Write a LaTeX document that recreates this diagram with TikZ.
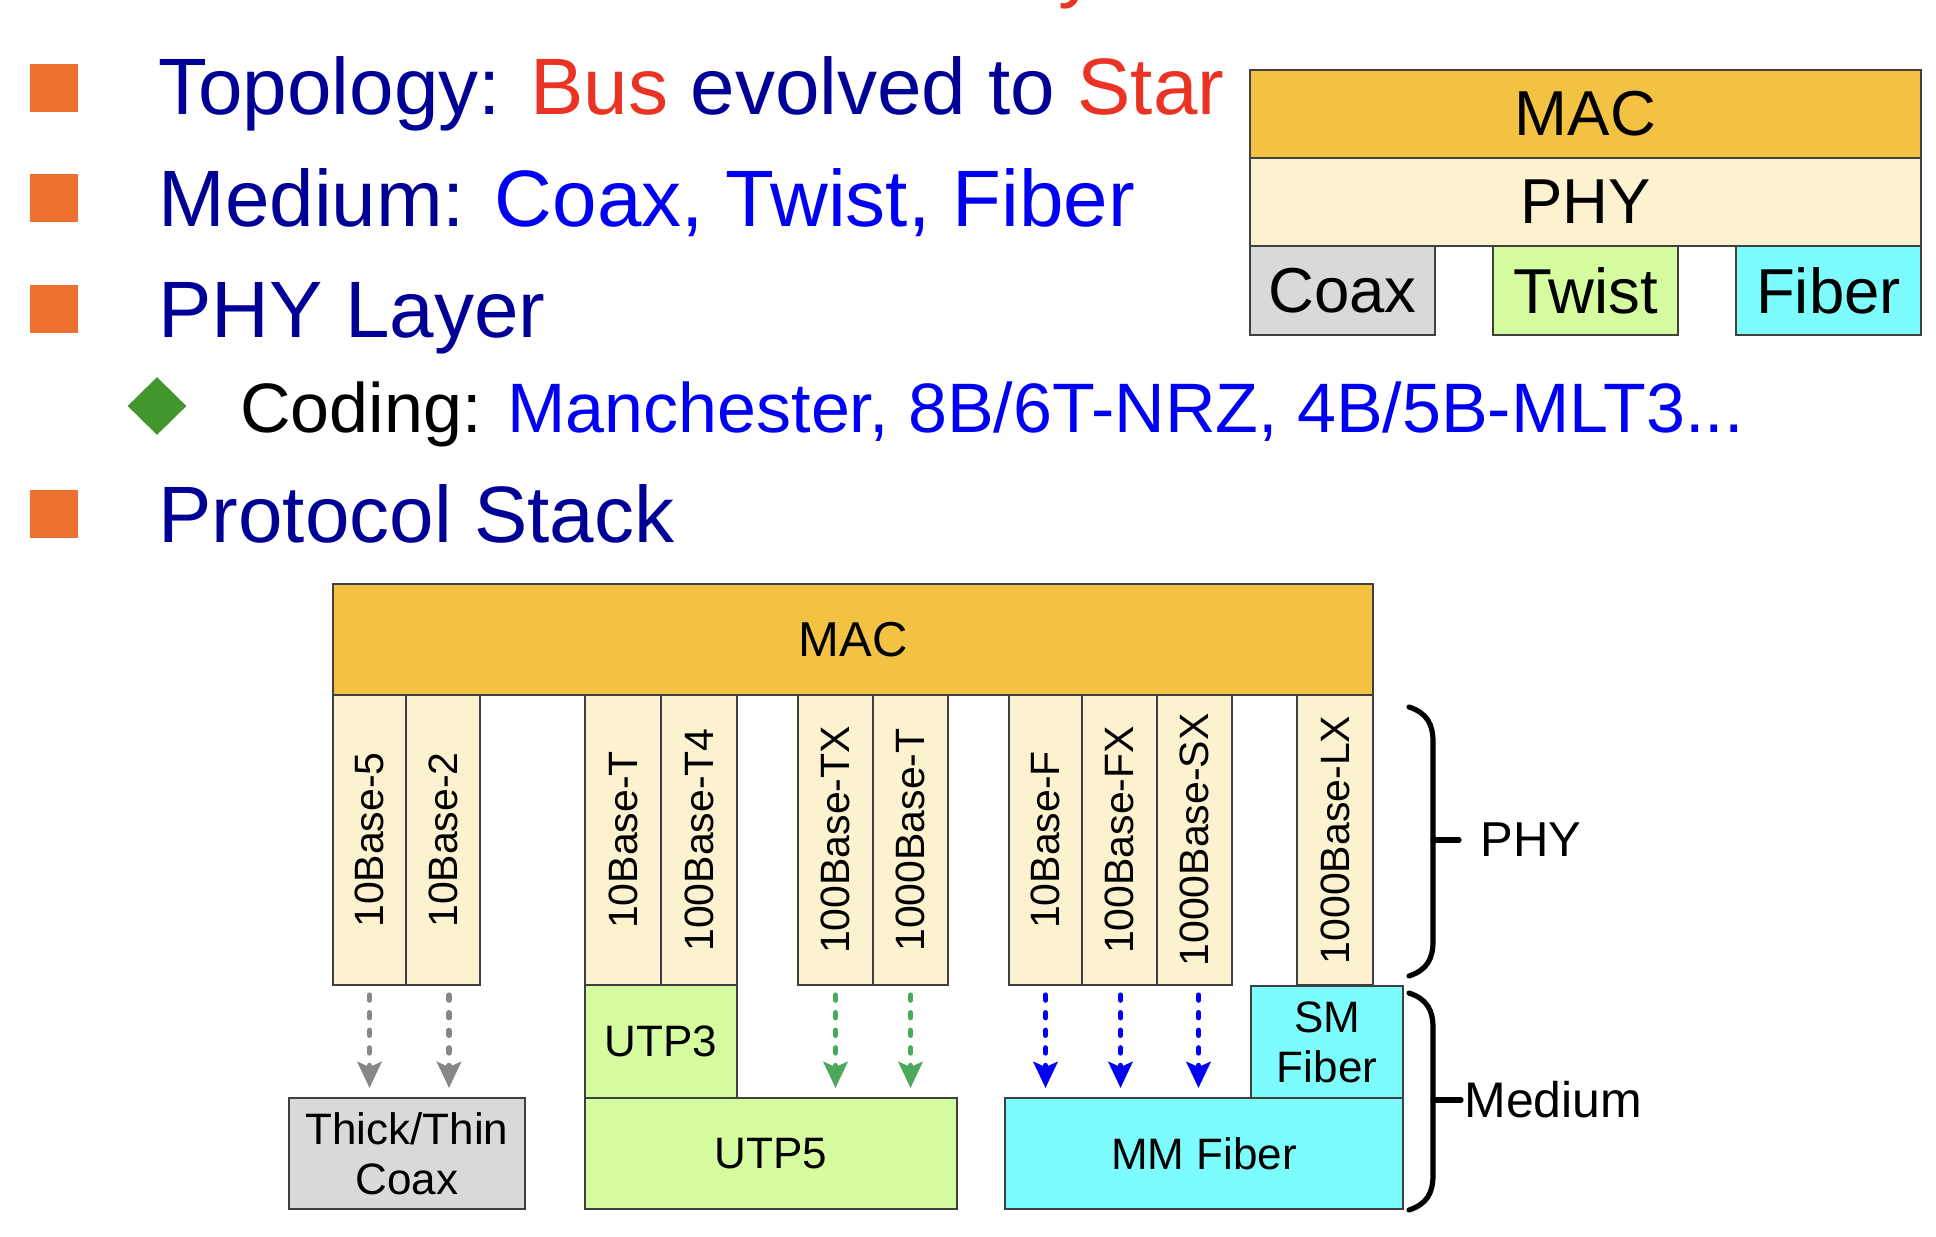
\documentclass[tikz,border=0pt]{standalone}
\usepackage{fontspec}
\setmainfont{Liberation Sans}
\usetikzlibrary{arrows.meta,calc,shapes.geometric}
\definecolor{macc}{RGB}{244,194,66}
\definecolor{phyc}{RGB}{253,242,208}
\definecolor{coaxc}{RGB}{217,217,217}
\definecolor{twistc}{RGB}{214,252,160}
\definecolor{fiberc}{RGB}{124,252,252}
\definecolor{bordc}{RGB}{64,64,64}
\definecolor{navyc}{RGB}{0,0,150}
\definecolor{redc}{RGB}{234,51,35}
\definecolor{bluec}{RGB}{0,0,245}
\definecolor{orangec}{RGB}{237,113,48}
\definecolor{greenc}{RGB}{67,150,45}
\definecolor{grayarr}{RGB}{135,135,135}
\definecolor{greenarr}{RGB}{76,168,90}
\begin{document}
\begin{tikzpicture}[x=0.5pt,y=-0.5pt,
  box/.style={draw=bordc, line width=0.9pt, inner sep=0pt, outer sep=0pt, align=center},
  sized/.style 2 args={minimum width=#1pt, minimum height=#2pt},
  fsbig/.style={font=\fontsize{31.75}{36}\selectfont},
  fsmac/.style={font=\fontsize{24.5}{28}\selectfont},
  fscol/.style={font=\fontsize{20.5}{24}\selectfont},
  fsmed/.style={font=\fontsize{22}{25}\selectfont},
  bullettext/.style={anchor=base west, inner sep=0pt, font=\fontsize{40}{48}\selectfont, text=navyc},
  sqbullet/.style={fill=orangec, minimum size=24pt, inner sep=0pt},
  darr/.style={line width=2.6pt, line cap=round, dash pattern=on 2.6pt off 6.2pt, -{Stealth[length=13pt,width=12pt,inset=2.5pt]}},
  bracepath/.style={line width=2.6pt, line cap=round, draw=black},
]
\fill[white] (0,0) rectangle (1936,1236);
\useasboundingbox (0,0) rectangle (1936,1236);

% cut-off title fragment
\node[anchor=base west, inner sep=0pt, text=redc, font=\fontsize{40}{48}\selectfont] (ttl) at (1058,-7) {y};

% bullets
\node[sqbullet] (b1) at (54,88) {};
\node[sqbullet] (b2) at (54,198) {};
\node[sqbullet] (b3) at (54,309) {};
\node[sqbullet] (b5) at (54,514) {};
\node[diamond, fill=greenc, inner sep=0pt, minimum width=29.5pt, minimum height=29pt] (d4) at (157,406) {};

\node[bullettext] (t1) at (158,114) {Topology: \textcolor{redc}{Bus} evolved to \textcolor{redc}{Star}};
\node[bullettext] (t2) at (158,226) {Medium: \textcolor{bluec}{Coax, Twist, Fiber}};
\node[bullettext] (t3) at (158,337) {PHY Layer};
\node[bullettext, font=\fontsize{35}{40}\selectfont, text=black] (t4) at (240,432) {Coding: \textcolor{bluec}{Manchester, 8B/6T-NRZ, 4B/5B-MLT3...}};
\node[bullettext] (t5) at (158,542) {Protocol Stack};

% small stack top right
\node[box, fill=macc, sized={335.5}{44}, fsbig] (mac2) at (1585.5,114) {MAC};
\node[box, fill=phyc, sized={335.5}{44}, fsbig] (phy2) at (1585.5,202) {PHY};
\node[box, fill=coaxc, sized={92.5}{44.5}, fsbig] (coax2) at (1342.5,290.5) {Coax};
\node[box, fill=twistc, sized={92.5}{44.5}, fsbig] (twist2) at (1585.5,290.5) {Twist};
\node[box, fill=fiberc, sized={92.5}{44.5}, fsbig] (fiber2) at (1828.5,290.5) {Fiber};

% protocol stack
\node[box, fill=macc, sized={520}{55.5}, fsmac] (mac) at (853,639.5) {MAC};
\node[box, fill=phyc, sized={36.5}{145}, fscol] (c1) at (369.5,840) {\rotatebox{90}{10Base-5}};
\node[box, fill=phyc, sized={37}{145}, fscol] (c2) at (443,840) {\rotatebox{90}{10Base-2}};
\node[box, fill=phyc, sized={38}{145}, fscol] (c3) at (623,840) {\rotatebox{90}{10Base-T}};
\node[box, fill=phyc, sized={38}{145}, fscol] (c4) at (699,840) {\rotatebox{90}{100Base-T4}};
\node[box, fill=phyc, sized={37.5}{145}, fscol] (c5) at (835.5,840) {\rotatebox{90}{100Base-TX}};
\node[box, fill=phyc, sized={37.5}{145}, fscol] (c6) at (910.5,840) {\rotatebox{90}{1000Base-T}};
\node[box, fill=phyc, sized={36.5}{145}, fscol] (c7) at (1045.5,840) {\rotatebox{90}{10Base-F}};
\node[box, fill=phyc, sized={37.5}{145}, fscol] (c8) at (1119.5,840) {\rotatebox{90}{100Base-FX}};
\node[box, fill=phyc, sized={37.5}{145}, fscol] (c9) at (1194.5,840) {\rotatebox{90}{1000Base-SX}};
\node[box, fill=phyc, sized={38}{145}, fscol] (c10) at (1335,840) {\rotatebox{90}{1000Base-LX}};

\node[box, fill=twistc, sized={76}{56.5}, fsmed] (utp3) at (661,1041.5) {UTP3};
\node[box, fill=twistc, sized={186}{55.5}, fsmed] (utp5) at (771,1153.5) {UTP5};
\node[box, fill=coaxc, sized={118}{55.5}, fsmed] (coaxb) at (407,1153.5) {Thick/Thin\\Coax};
\node[box, fill=fiberc, sized={76}{56}, fsmed] (smf) at (1327,1042) {SM\\Fiber};
\node[box, fill=fiberc, sized={199}{55.5}, fsmed] (mmf) at (1204,1153.5) {MM Fiber};

% arrows
\draw[darr, draw=grayarr] ($(c1.south)+(0,10)$) -- ($(c1.south |- coaxb.north)+(0,-10)$);
\draw[darr, draw=grayarr] ($(c2.south)+(6,10)$) -- ($(c2.south |- coaxb.north)+(6,-10)$);
\draw[darr, draw=greenarr] ($(c5.south)+(0,10)$) -- ($(c5.south |- utp5.north)+(0,-10)$);
\draw[darr, draw=greenarr] ($(c6.south)+(0,10)$) -- ($(c6.south |- utp5.north)+(0,-10)$);
\draw[darr, draw=bluec] ($(c7.south)+(0,10)$) -- ($(c7.south |- mmf.north)+(0,-10)$);
\draw[darr, draw=bluec] ($(c8.south)+(1,10)$) -- ($(c8.south |- mmf.north)+(1,-10)$);
\draw[darr, draw=bluec] ($(c9.south)+(4,10)$) -- ($(c9.south |- mmf.north)+(4,-10)$);

% braces
\coordinate (pb) at (1433,840);
\coordinate (mb) at (1433,1100);
\draw[bracepath] (1409,707) .. controls (1427,713) and (1433,724) .. (1433,742) -- (1433,941) .. controls (1433,959) and (1427,970) .. (1409,976);
\draw[bracepath] (pb) -- ++(26,0);
\node[anchor=west, inner sep=0pt, fsmac] (phyl) at (1480,840) {PHY};
\draw[bracepath] (1409,993) .. controls (1427,999) and (1433,1010) .. (1433,1028) -- (1433,1175) .. controls (1433,1193) and (1427,1204) .. (1409,1210);
\draw[bracepath] (mb) -- ++(28,0);
\node[anchor=west, inner sep=0pt, font=\fontsize{25}{28}\selectfont] (medl) at (1464,1100) {Medium};
\end{tikzpicture}
\end{document}
